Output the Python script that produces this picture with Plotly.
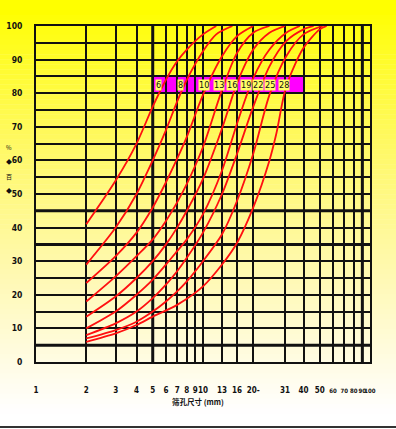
import math
import plotly.graph_objects as go

# ---------------- data ----------------
curve_labels = ["6", "8", "10", "13", "16", "19", "22", "25", "28"]

c1_x = [2, 3, 4, 5, 6, 7, 8, 10, 12]
c1_y = [41, 54, 65, 76, 84, 89.5, 93, 97.5, 100]
c2_x = [2, 3, 4, 5, 6, 7, 8, 10, 12, 15]
c2_y = [29, 40, 50, 60, 69, 77.5, 84, 92.5, 97.5, 100]
c3_x = [2, 3, 4, 5, 6, 7, 8, 10, 13, 16, 20]
c3_y = [23.5, 31.5, 38.5, 46, 53.5, 60.5, 67, 79.5, 91, 97, 100]
c4_x = [2, 3, 4, 5, 6, 7, 8, 10, 13, 16, 20, 25]
c4_y = [18, 25.5, 31.5, 36.5, 42, 47.5, 53, 64, 81, 92, 98, 100]
c5_x = [2, 3, 4, 5, 6, 7, 8, 10, 13, 16, 20, 25, 31]
c5_y = [13.5, 19.5, 25, 30, 35, 40, 45, 54.5, 69.5, 83, 93, 98, 100]
c6_x = [2, 3, 4, 5, 6, 7, 8, 10, 13, 16, 20, 25, 31.5, 38]
c6_y = [10, 15, 20, 24.5, 29, 33, 36.5, 44, 57, 71, 84.5, 93, 98, 100]
c7_x = [2, 3, 4, 5, 6, 7, 8, 10, 13, 16, 20, 25, 31.5, 40, 46]
c7_y = [8, 11.5, 15, 19, 23, 27, 31, 38.5, 50, 62, 76, 88, 95.5, 99, 100]
c8_x = [2, 3, 4, 5, 6, 7, 8, 10, 13, 16, 20, 25, 31.5, 40, 52]
c8_y = [7, 9.5, 12, 15, 18, 21, 24, 30, 38, 48, 62, 79.5, 91, 97.5, 100]
c9_x = [2, 3, 4, 5, 7, 10, 13, 16, 20, 25, 27.5, 31.5, 40, 50, 55]
c9_y = [6, 8.5, 11, 13.5, 17, 22.5, 29, 35.5, 46, 60, 68, 82, 93.5, 99, 100]

curves_x = [c1_x, c2_x, c3_x, c4_x, c5_x, c6_x, c7_x, c8_x, c9_x]
curves_y = [c1_y, c2_y, c3_y, c4_y, c5_y, c6_y, c7_y, c8_y, c9_y]

label_x = [5.38, 7.38, 10.1, 12.5, 14.9, 18.1, 21.3, 25.2, 30.5]
label_y = 82.5
band_x = [5, 40]
band_y = [80, 85]

x_tickvals = [1, 2, 3, 4, 5, 6, 7, 8, 9, 10, 13, 16, 20, 31, 40, 50, 60, 70, 80, 90, 100]
x_ticktext = ["1", "2", "3", "4", "5", "6", "7", "8", "9", "10", "13", "16", "20-", "31",
              "40", "50", "60", "70", "80", "90", "100"]
y_tickvals = [0, 5, 10, 15, 20, 25, 30, 35, 40, 45, 50, 55, 60, 65, 70, 75, 80, 85, 90, 95, 100]
y_ticktext = ["0", "", "10", "", "20", "", "30", "", "40", "", "50", "", "60", "", "70", "",
              "80", "", "90", "", "100"]
thick_y = [5, 35, 45]
thick_x = [5, 90]

x_title = "筛孔尺寸 (mm)"
y_title_chars = ["%", "◆", "百", "◆"]

# ---------------- figure ----------------
W, H = 396, 429
ML, MR, MT, MB = 36, 26, 26, 67
PW, PH = W - ML - MR, H - MT - MB

fig = go.Figure()

for xs, ys in zip(curves_x, curves_y):
    fig.add_trace(go.Scatter(x=xs, y=ys, mode="lines",
                             line=dict(color="#ff1010", width=1.8, shape="spline", smoothing=0.8),
                             showlegend=False, hoverinfo="skip"))

shapes = []
# background gradient (paper coords covering the whole figure)
px0, px1 = -ML / PW, 1 + MR / PW
N = 86
for i in range(N):
    ytop = i * H / N
    ybot = (i + 1) * H / N
    t = (ytop + ybot) / 2
    f = max(0.0, min(1.0, (t - 12) / 400))
    b = int(255 * f ** 0.85)
    g = int(255 - 6 * (4 * f * (1 - f)))
    col = "rgb(255,%d,%d)" % (g, b)
    shapes.append(dict(type="rect", xref="paper", yref="paper",
                       x0=px0, x1=px1,
                       y0=(H - MB - ybot) / PH, y1=(H - MB - ytop) / PH + 0.001,
                       fillcolor=col, line=dict(width=0), layer="below"))

# magenta label band
shapes.append(dict(type="rect", xref="x", yref="y", x0=band_x[0], x1=band_x[1],
                   y0=band_y[0], y1=band_y[1], fillcolor="#ff00ff",
                   line=dict(width=0), layer="below"))
# thick grid lines
for yv in thick_y:
    shapes.append(dict(type="line", xref="paper", yref="y", x0=0, x1=1, y0=yv, y1=yv,
                       line=dict(color="#111", width=3), layer="between"))
for xv in thick_x:
    shapes.append(dict(type="line", xref="x", yref="paper", x0=xv, x1=xv, y0=0, y1=1,
                       line=dict(color="#111", width=3), layer="between"))
# bottom dark line of the picture
yb = -(H - 2 - (H - MB)) / PH
shapes.append(dict(type="line", xref="paper", yref="paper", x0=px0, x1=px1,
                   y0=yb, y1=yb, line=dict(color="#333", width=2)))

annotations = []
for lx, lt in zip(label_x, curve_labels):
    annotations.append(dict(x=math.log10(lx), y=label_y, xref="x", yref="y", text=lt,
                            showarrow=False,
                            font=dict(family="DejaVu Sans Condensed", size=9, color="#111"),
                            bgcolor="#ffff66", borderpad=0))
annotations.append(dict(x=(198 - ML) / PW, y=-(409 - (H - MB)) / PH, xref="paper", yref="paper",
                        text=x_title, showarrow=False,
                        font=dict(family="Noto Sans CJK SC", size=7.5, color="#111", weight="bold")))
for i, ch in enumerate(y_title_chars):
    annotations.append(dict(x=-(ML - 4) / PW, y=(H - MB - (147 + i * 14.5)) / PH,
                            xref="paper", yref="paper", text=ch, showarrow=False,
                            font=dict(family="Noto Sans CJK SC", size=6, color="#111")))

# smaller text for the crowded right-hand tick labels
x_ticktext_fmt = [t if v < 60 else "<span style='font-size:6px'>%s</span>" % t
                  for v, t in zip(x_tickvals, x_ticktext)]

xtickfont = dict(family="DejaVu Sans Condensed", size=8, color="#111", weight="bold")
ytickfont = dict(family="DejaVu Sans Condensed", size=8.5, color="#111", weight="bold")

fig.update_layout(
    width=W, height=H, autosize=False,
    margin=dict(l=ML, r=MR, t=MT, b=MB, pad=0),
    paper_bgcolor="#ffffcc", plot_bgcolor="rgba(0,0,0,0)",
    shapes=shapes, annotations=annotations,
    xaxis=dict(type="log", range=[0, 2], tickvals=x_tickvals, ticktext=x_ticktext_fmt,
               showgrid=True, gridcolor="#111", gridwidth=1.5, zeroline=False,
               showline=True, linecolor="#111", linewidth=2, mirror=True, automargin=False,
               ticks="", ticklabelstandoff=19, tickfont=xtickfont, tickangle=0),
    yaxis=dict(range=[0, 100], tickvals=y_tickvals, ticktext=y_ticktext,
               showgrid=True, gridcolor="#111", gridwidth=1.5, zeroline=False,
               showline=True, linecolor="#111", linewidth=2, mirror=True, automargin=False,
               ticks="", ticklabelstandoff=10, tickfont=ytickfont),
)

fig.write_html("out.html", config={"displayModeBar": False},
               post_script="document.body.style.margin='0';document.body.style.overflow='hidden';")
